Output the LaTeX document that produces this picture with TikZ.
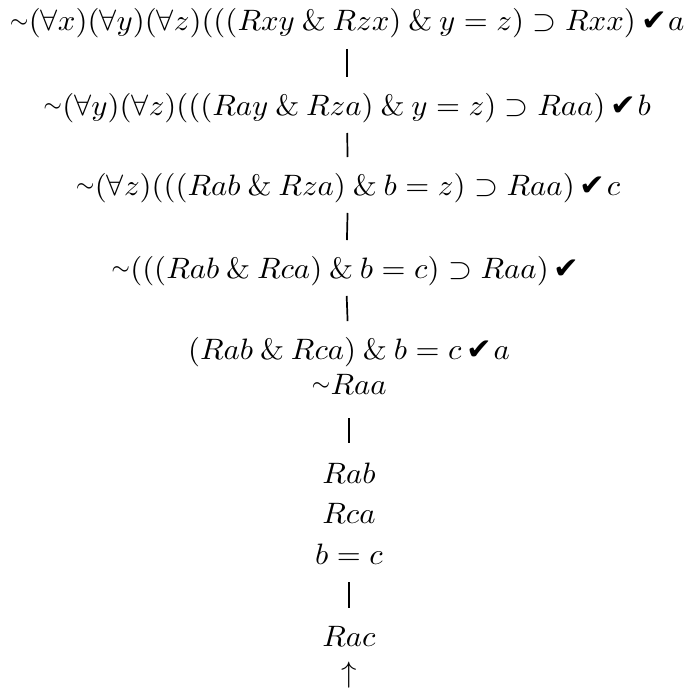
\documentclass[tikz,border=0pt]{standalone}
\usepackage{fontspec}
\newfontfamily\chkfont{DejaVu Sans}
\newcommand{\ck}{\,\mbox{\chkfont\symbol{"2714}}\hspace{0.4pt}}
\newcommand{\nt}{\mathord{\vcenter{\hbox{$\scriptstyle\sim$}}}}
\newcommand{\amp}{\mathbin{\&}}
\begin{document}
\begin{tikzpicture}[x=1pt,y=-1pt,
  lbl/.style={anchor=base, inner sep=0pt, xscale=3.08, yscale=2.95},
  bar/.style={line width=1.7pt, shorten <=18pt, shorten >=38pt}]
\useasboundingbox (0,0) rectangle (688,690);
\node[lbl] (r1) at (347,31) {$\nt(\forall x)(\forall y)(\forall z)(((Rxy \amp Rzx) \amp y = z) \supset Rxx)\ck a$};
\node[lbl] (r2) at (347,115) {$\nt(\forall y)(\forall z)(((Ray \amp Rza) \amp y = z) \supset Raa)\ck b$};
\node[lbl] (r3) at (348,195) {$\nt(\forall z)(((Rab \amp Rza) \amp b = z) \supset Raa)\ck c$};
\node[lbl] (r4) at (346,278) {$\nt(((Rab \amp Rca) \amp b = c) \supset Raa)\ck$};
\node[lbl] (r5) at (349,359) {$(Rab \amp Rca) \amp b = c\ck a$};
\node[lbl] (r6) at (349,394) {$\nt Raa$};
\node[lbl] (r7) at (349,483) {$Rab$};
\node[lbl] (r8) at (349,523) {$Rca$};
\node[lbl] (r9) at (349,564) {$b = c$};
\node[lbl] (r10) at (349,646) {$Rac$};
\node[lbl] (r11) at (349,682) {$\uparrow$};
\draw[bar] (r1.base) -- (r2.base);
\draw[bar] (r2.base) -- (r3.base);
\draw[bar] (r3.base) -- (r4.base);
\draw[bar] (r4.base) -- (r5.base);
\draw[bar,shorten <=24pt,shorten >=40pt] (r6.base) -- (r7.base);
\draw[bar] (r9.base) -- (r10.base);
\end{tikzpicture}
\end{document}
